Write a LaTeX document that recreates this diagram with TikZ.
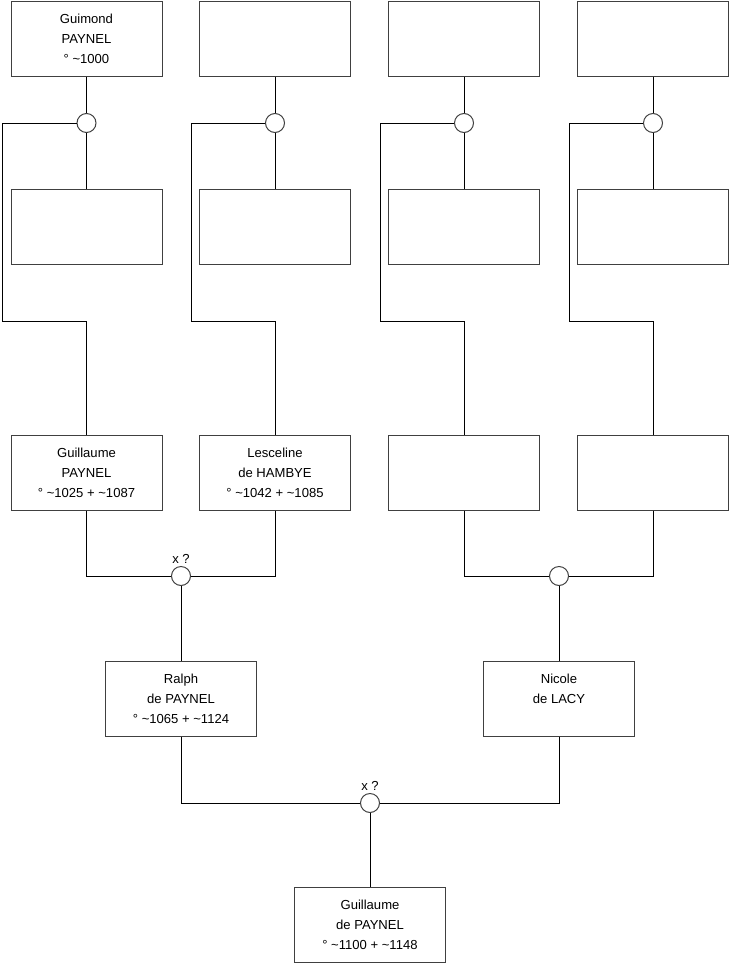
\documentclass[tikz,border=0pt]{standalone}
\usepackage{fontspec}
\setmainfont{Liberation Sans}
\usetikzlibrary{positioning}
\tikzset{
  person/.style={draw=black!75, line width=0.75pt, minimum width=113.25pt, minimum height=56.25pt, inner sep=0pt, align=center, font=\fontsize{9.8}{15}\selectfont},
  union/.style={circle, draw=black!75, fill=white, line width=0.75pt, minimum size=14.25pt, inner sep=0pt},
  link/.style={line width=0.75pt},
  wed/.style={font=\fontsize{9.8}{11}\selectfont, inner sep=1pt},
}

\begin{document}
\begin{tikzpicture}[x=0.75pt, y=-0.75pt]
  \useasboundingbox (0,0) rectangle (740,975);
  % ancestors
  \node[person] (a1) at (86.5,38.5) {Guimond\\PAYNEL\\° \textasciitilde1000};
  \node[person] (a2) at (275,38.5) {};
  \node[person] (a3) at (464,38.5) {};
  \node[person] (a4) at (653,38.5) {};
  \node[union] (m1) at (86.5,123) {};
  \node[union] (m2) at (275,123) {};
  \node[union] (m3) at (464,123) {};
  \node[union] (m4) at (653,123) {};
  \node[person] (b1) at (86.5,227) {};
  \node[person] (b2) at (275,227) {};
  \node[person] (b3) at (464,227) {};
  \node[person] (b4) at (653,227) {};
  \coordinate (k1) at (2,321);
  \coordinate (k2) at (191,321);
  \coordinate (k3) at (380,321);
  \coordinate (k4) at (569,321);
  % parents
  \node[person] (p1) at (86.5,472.5) {Guillaume\\PAYNEL\\° \textasciitilde1025 + \textasciitilde1087};
  \node[person] (p2) at (275,472.5) {Lesceline\\de HAMBYE\\° \textasciitilde1042 + \textasciitilde1085};
  \node[person] (p3) at (464,472.5) {};
  \node[person] (p4) at (653,472.5) {};
  \node[union] (u1) at (181,576) {};
  \node[union] (u2) at (559,576) {};
  \node[wed, above=1pt of u1] (x1) {x ?};
  \node[person] (r1) at (181,698.5) {Ralph\\de PAYNEL\\° \textasciitilde1065 + \textasciitilde1124};
  \node[person] (n1) at (559,698.5) {Nicole\\de LACY\\\mbox{}};
  \node[union] (u3) at (370,803) {};
  \node[wed, above=1pt of u3] (x3) {x ?};
  \node[person] (gp) at (370,924.5) {Guillaume\\de PAYNEL\\° \textasciitilde1100 + \textasciitilde1148};

  \foreach \i in {1,...,4} {
    \draw[link] (a\i) -- (m\i);
    \draw[link] (m\i) -- (b\i);
    \draw[link] (m\i.west) -| (k\i) -| (p\i.north);
  }
  \draw[link] (p1.south) |- (u1.west);
  \draw[link] (p2.south) |- (u1.east);
  \draw[link] (p3.south) |- (u2.west);
  \draw[link] (p4.south) |- (u2.east);
  \draw[link] (u1) -- (r1);
  \draw[link] (u2) -- (n1);
  \draw[link] (r1.south) |- (u3.west);
  \draw[link] (n1.south) |- (u3.east);
  \draw[link] (u3) -- (gp);
\end{tikzpicture}
\end{document}
